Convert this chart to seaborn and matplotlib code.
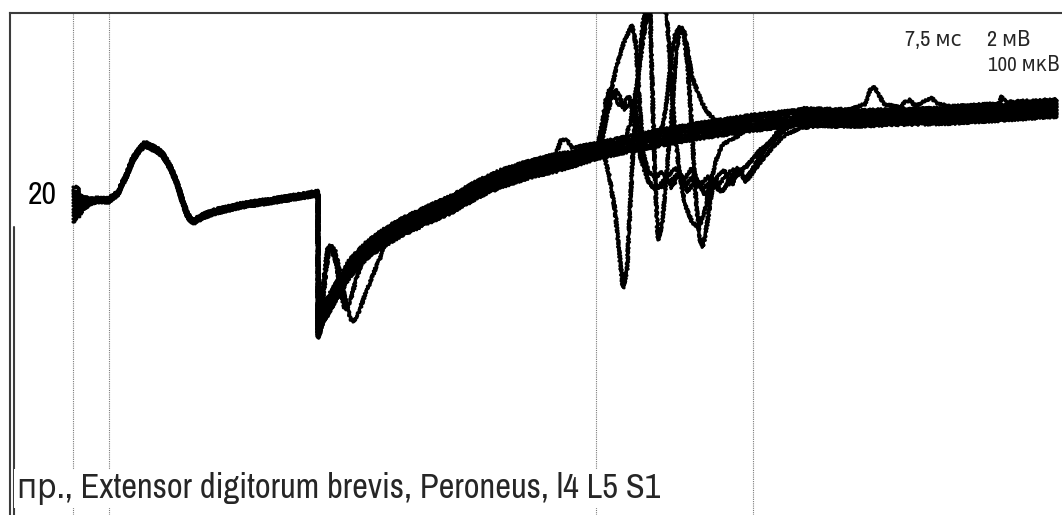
import matplotlib
matplotlib.use("Agg")
import matplotlib.pyplot as plt
from matplotlib import font_manager
from matplotlib import patheffects
from matplotlib.lines import Line2D
import pandas as pd
import seaborn as sns

# ---------------------------------------------------------------------------
# F-wave study, 12 superimposed sweeps.  Time in ms from the stimulus,
# amplitude in display units (gain switches at GAIN_STEP_T).
# ---------------------------------------------------------------------------
SWEEPS = list(range(12))

# stimulus artefact tail, per sweep
ART_T = [0.0, 0.5, 0.6, 1.0, 1.8]
ART_AMP = [
    [1.3, 1.3, 0.5, 0.3, 0.1],
    [1.0, 0.6, 0.5, 0.3, 0.1],
    [0.65, 0.4, 0.35, 0.2, 0.1],
    [0.35, 0.2, 0.2, 0.1, 0.0],
    [0.0, 0.0, 0.0, 0.0, 0.0],
    [-0.3, -0.2, -0.2, -0.1, 0.0],
    [-0.6, -0.45, -0.4, -0.2, -0.1],
    [-0.95, -0.7, -0.65, -0.35, -0.1],
    [-1.25, -0.95, -0.85, -0.45, -0.2],
    [-1.55, -1.2, -1.1, -0.6, -0.25],
    [-1.9, -1.45, -1.35, -0.75, -0.3],
    [-2.2, -1.7, -1.6, -0.9, -0.4],
]

# M-response (common to all sweeps)
M_T = [2.2, 2.9, 3.6, 4.5, 5.4, 6.0, 6.7, 7.2, 7.8, 8.4, 9.0, 9.7, 10.4,
       11.0, 11.5, 12.0, 13.0, 14.4, 17.0, 20.4, 23.4, 24.5]
M_AMP = [0.0, 0.0, 0.0, 0.7, 2.6, 4.1, 5.1, 5.6, 5.3, 5.0, 4.5, 3.3, 1.7,
         -0.3, -1.6, -2.2, -1.6, -1.1, -0.5, 0.0, 0.5, 0.7]
M_OFFSET = [0.2, 0.16, 0.13, 0.09, 0.05, 0.02, -0.02, -0.05, -0.09, -0.13,
            -0.16, -0.2]

# gain switch
GAIN_STEP_T = 24.5
STEP_BOTTOM = [-12.0, -12.4, -12.7, -13.0, -13.2, -13.3, -13.4, -13.5,
               -13.6, -13.7, -13.8, -13.8]

# late baseline (high gain)
LATE_T = [24.9, 25.7, 26.7, 27.7, 29.4, 31.2, 32.7, 35.2, 37.7, 40.7, 42.7,
          45.7, 48.7, 52.4, 55.7, 58.7, 62.7, 68.0, 72.7, 77.7, 82.7, 87.7,
          92.7, 98.4]
LATE_AMP = [-11.8, -10.2, -8.5, -6.8, -5.0, -3.7, -2.8, -1.6, -0.5, 1.2, 2.1,
            3.1, 3.8, 5.0, 5.7, 6.3, 7.0, 7.8, 8.3, 8.2, 8.4, 8.5, 8.8, 9.2]
LATE_OFFSET = [0.85, 0.7, 0.55, 0.4, 0.25, 0.08, -0.08, -0.25, -0.4, -0.55,
               -0.7, -0.85]

# individual responses (F-waves and small deflections), per sweep
RESPONSES = {
    0: [
        ([52.4, 52.9, 53.3, 53.7, 54.1, 54.5, 54.9, 55.3, 55.6, 55.9, 56.3,
          56.7, 57.2, 57.7, 58.3, 58.9, 59.5, 60.3, 61.1, 61.9, 62.7, 63.5,
          64.3, 65.1, 65.9, 66.9, 67.9, 69.2, 70.7],
         [5.0, 7.5, 10.0, 11.2, 10.5, 9.7, 9.2, 10.0, 10.4, 9.0, 6.5,
          4.5, 2.8, 1.5, 1.0, 1.4, 2.4, 3.2, 2.0, 3.2, 1.4, 2.4,
          1.2, 2.2, 3.0, 3.0, 4.0, 5.2, 6.5]),
        ([79.2, 79.7, 80.1, 80.6, 81.1],
         [9.6, 11.0, 11.4, 10.5, 9.6]),
        ([83.2, 83.7, 84.2, 85.4, 85.8, 86.3],
         [9.8, 10.0, 9.4, 10.0, 10.3, 9.7]),
        ([92.8, 93.3], [10.4, 9.8]),
    ],
    1: [
        ([24.7, 24.9, 25.2, 25.5, 25.9, 26.3, 26.7, 27.2, 27.7, 28.3, 28.9],
         [-12.2, -10.0, -6.8, -4.7, -4.9, -6.4, -8.8, -11.0, -10.2, -8.0, -6.2]),
        ([48.3, 48.8, 49.4, 49.9], [4.6, 6.0, 6.0, 5.2]),
    ],
    2: [
        ([53.7, 54.9, 55.7, 56.4, 57.0, 57.5, 58.0, 59.0, 59.4, 59.7, 60.1,
          60.6, 61.2, 61.9, 62.6, 63.2, 63.7, 64.3, 64.9, 65.7, 66.7],
         [5.2, 5.5, 7.5, 11.5, 16.0, 19.0, 20.0, 20.0, 18.0, 14.0, 8.0,
          3.0, -0.5, -2.2, -2.8, -1.0, 1.5, 4.0, 5.5, 6.0, 6.5]),
    ],
    4: [
        ([53.0, 53.6, 54.2, 54.6, 55.0, 55.4, 55.7, 56.0, 56.5, 57.0, 57.4,
          57.7, 57.9, 58.2, 58.5, 58.9, 59.4, 59.9, 60.3, 60.7, 61.1, 61.5,
          61.9, 62.3, 62.7, 63.0, 63.4, 63.9, 64.5, 65.2, 65.9, 66.5, 67.2,
          67.9, 68.7, 69.7, 70.7],
         [5.0, 2.5, -1.0, -5.0, -8.8, -7.0, -1.0, 5.0, 12.3, 17.7, 20.0,
          20.0, 12.3, 2.3, -4.0, -2.5, 3.0, 9.0, 14.5, 17.2, 16.5, 13.0,
          7.0, 0.0, -4.0, -4.7, -2.5, 1.0, 2.5, 3.0, 1.5, 3.0, 2.2,
          3.0, 4.3, 5.7, 7.2]),
    ],
    6: [
        ([52.7, 53.3, 53.9, 54.4, 54.8, 55.2, 55.7, 56.1, 56.5, 56.9, 57.5,
          58.2, 58.9, 59.7, 60.5, 61.3, 62.1, 62.9, 63.9, 64.7, 65.5, 66.5,
          67.5, 68.7, 70.2],
         [5.0, 8.0, 10.5, 11.0, 10.0, 9.0, 9.7, 10.0, 7.5, 5.0, 3.0,
          2.2, 2.8, 1.8, 2.6, 1.5, 2.5, 1.0, 2.0, 0.8, 1.5, 2.5,
          3.5, 5.0, 6.2]),
    ],
    8: [
        ([52.4, 53.0, 53.7, 54.4, 55.1, 55.9, 56.3, 56.7, 57.1, 57.5, 58.1,
          58.7, 59.3, 59.9, 60.7, 61.5, 62.3, 63.2, 64.1, 64.9, 65.7, 66.5,
          67.3, 68.0, 68.9, 69.9, 71.2, 72.7],
         [5.0, 7.5, 10.5, 13.5, 15.8, 17.5, 15.5, 9.0, 4.0, 2.0, 1.2,
          1.5, 2.2, 1.2, 2.8, 0.8, 2.2, 0.5, 2.0, 0.8, 2.2, 3.2,
          1.8, 2.8, 4.0, 5.2, 6.5, 7.2]),
    ],
    9: [
        ([24.7, 25.0, 25.3, 25.7, 26.2, 26.7, 27.2, 27.7, 28.0, 28.5, 29.2,
          29.9, 30.7],
         [-13.0, -10.0, -7.0, -4.5, -5.0, -7.2, -9.8, -11.8, -12.2, -11.4,
          -9.5, -7.7, -5.8]),
    ],
    10: [
        ([56.7, 57.9, 58.5, 59.0, 59.4, 59.8, 60.2, 60.7, 61.1, 61.4, 61.9,
          62.4, 62.9, 63.5, 64.2, 65.2],
         [5.0, 5.4, 6.5, 7.5, 10.0, 14.0, 16.5, 17.3, 17.0, 15.3, 12.3,
          11.0, 9.7, 8.7, 8.0, 7.5]),
    ],
}

CURSORS_MS = [0.0, 3.6, 52.3, 68.0]
TRACE_LABEL = "20"
SCALE_TIME = "7,5 мс"
SCALE_AMP_LOW = "2 мВ"
SCALE_AMP_HIGH = "100 мкВ"
CAPTION = "пр., Extensor digitorum brevis, Peroneus, l4 L5 S1"

# ---------------------------------------------------------------------------
rows = []
for s in SWEEPS:
    pts = list(zip(ART_T, ART_AMP[s]))
    pts += [(t, a + M_OFFSET[s]) for t, a in zip(M_T, M_AMP)]
    pts.append((GAIN_STEP_T, STEP_BOTTOM[s]))
    windows = RESPONSES.get(s, [])
    late = [(t, a + LATE_OFFSET[s]) for t, a in zip(LATE_T, LATE_AMP)
            if not any(w[0][0] <= t <= w[0][-1] for w in windows)]
    for wt, wa in windows:
        late += list(zip(wt, wa))
    late.sort()
    pts += late
    for i, (t, a) in enumerate(pts):
        rows.append({"sweep": s, "i": i, "t": t, "amp": a})
df = pd.DataFrame(rows)

sns.set_style("white")

# prefer a condensed sans face (regular or light weight) for the labels
WEIGHT_NUM = {"ultralight": 200, "light": 300, "normal": 400, "regular": 400,
              "book": 400, "medium": 500, "semibold": 600, "demibold": 600,
              "bold": 700, "heavy": 800, "extra bold": 800, "black": 900}


def weight_value(w):
    try:
        return int(w)
    except (TypeError, ValueError):
        return WEIGHT_NUM.get(str(w).lower(), 400)


entries = font_manager.fontManager.ttflist
cond = [f for f in entries
        if f.style == "normal" and (
            str(f.stretch) in ("condensed", "semi-condensed",
                               "extra-condensed", "ultra-condensed")
            or "Condensed" in f.name or "Narrow" in f.name)]
if cond:
    best = min(cond, key=lambda f: (abs(weight_value(f.weight) - 370),
                                    f.name))
    font_family = best.name
    font_weight = weight_value(best.weight)
    font_stretch = best.stretch
else:
    font_family, font_weight, font_stretch = "Open Sans", 400, "normal"
plt.rcParams["font.family"] = [font_family, "DejaVu Sans"]
plt.rcParams["font.weight"] = font_weight
plt.rcParams["font.stretch"] = font_stretch

# light faces get a thin outline so the strokes read as regular weight
stroke = ([patheffects.withStroke(linewidth=0.7, foreground="black")]
          if font_weight < 380 else [])

W, H = 1062, 515
fig = plt.figure(figsize=(W / 100, H / 100), dpi=100)
ax = fig.add_axes([10 / W, 0, (W - 10) / W, (H - 13) / H])
ax.set_xlim(-6.3, 98.9)
ax.set_ylim(-31.5, 18.7)
ax.set_xticks([])
ax.set_yticks([])
for side in ("right", "bottom"):
    ax.spines[side].set_visible(False)
for side in ("top", "left"):
    ax.spines[side].set_color("#3c3c3c")
    ax.spines[side].set_linewidth(1.5)

for x in CURSORS_MS:
    ax.axvline(x, color="#7a7a7a", lw=0.8, ls=(0, (1, 1)), zorder=1)

sns.lineplot(data=df, x="t", y="amp", units="sweep", estimator=None,
             sort=False, color="black", linewidth=2.3, ax=ax, legend=False,
             solid_joinstyle="round", solid_capstyle="round", zorder=3)
for ln in ax.get_lines()[len(CURSORS_MS):]:
    ln.set_sketch_params(scale=1.2, length=3.0, randomness=2.0)
ax.set_xlabel("")
ax.set_ylabel("")

# second frame line on the left
fig.add_artist(Line2D([14 / W, 14 / W], [0, (H - 227) / H],
                      color="#3c3c3c", lw=1.5))

renderer = fig.canvas.get_renderer()


def fit_text(txt, width_px):
    """Shrink a text until it spans at most width_px pixels."""
    w = txt.get_window_extent(renderer).width
    if w > width_px:
        txt.set_fontsize(txt.get_fontsize() * width_px / w)


t20 = ax.text(-3.1, 0.5, TRACE_LABEL, ha="center", va="center", fontsize=23,
              color="black", path_effects=stroke)
fit_text(t20, 29)
t1 = fig.text(905 / W, 1 - 46 / H, SCALE_TIME, ha="left", va="baseline",
              fontsize=16, path_effects=stroke)
fit_text(t1, 58)
t2 = fig.text(987 / W, 1 - 46 / H, SCALE_AMP_LOW, ha="left", va="baseline",
              fontsize=16, path_effects=stroke)
fit_text(t2, 44)
t3 = fig.text(988 / W, 1 - 71 / H, SCALE_AMP_HIGH, ha="left", va="baseline",
              fontsize=16, path_effects=stroke)
fit_text(t3, 72)
cap = fig.text(17 / W, 1 - 498 / H, CAPTION, ha="left", va="baseline",
               fontsize=25, path_effects=stroke,
               bbox=dict(facecolor="white", edgecolor="none", pad=2), zorder=5)
fit_text(cap, 643)

fig.savefig("out.png", dpi=100)
